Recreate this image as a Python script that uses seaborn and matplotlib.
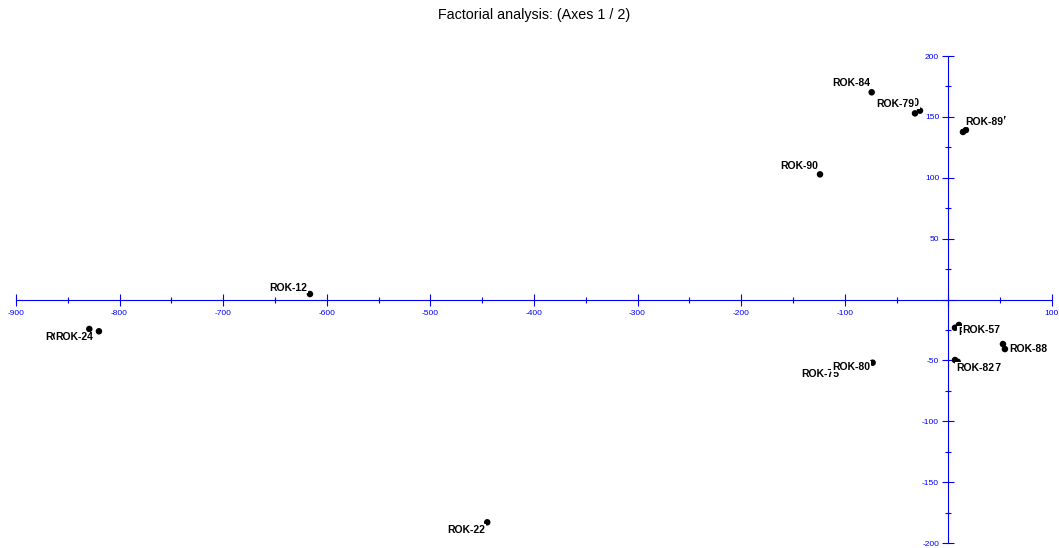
import matplotlib
matplotlib.use("Agg")
import matplotlib.pyplot as plt
from matplotlib.ticker import MultipleLocator, FixedLocator, FuncFormatter
import seaborn as sns
import pandas as pd
import numpy as np

# ---- data (observations projected on factorial axes 1 / 2) ----
labels = ["ROK-84", "ROK-70", "ROK-79", "ROK-90", "ROK-12", "ROK-23", "ROK-24",
          "ROK-75", "ROK-80", "ROK-22", "ROK-87", "ROK-89", "ROK-56", "ROK-57",
          "ROK-86", "ROK-88", "ROK-77", "ROK-82"]
axis1 = [-74.0, -27.4, -32.2, -123.9, -616.2, -829.2, -819.9,
         -102.7, -73.1, -445.1, 17.0, 14.1, 6.4, 10.2,
         52.7, 54.6, 9.0, 6.4]
axis2 = [170.2, 155.1, 152.9, 102.8, 4.5, -24.2, -26.1,
         -56.3, -51.9, -183.0, 139.2, 137.6, -23.2, -20.9,
         -36.6, -40.7, -51.1, -49.7]

# label placement (pixel offsets from point, horizontal alignment)
label_dx = [-1, -1, -1, -2, -3, -6.5, -5.7, -3, -2.7, -2.3, 2.7, 2.7, 3, 3.3, 6.3, 4.3, 5.3, 1]
label_dy = [6.2, 4.6, 6.8, 5.5, 3.5, -11.0, -9.2, -9.1, -7.1, -10.5, 5.6, 7.2, -7.1, -7.8, -8.1, -3.1, -9.0, -11.1]
label_ha = ["right"] * 10 + ["left"] * 8

title = "Factorial analysis: (Axes 1 / 2)"

sns.set_style("white")
plt.rcParams["font.family"] = ["Liberation Sans", "DejaVu Sans"]

W, H = 1059, 548
fig = plt.figure(figsize=(W / 100, H / 100), dpi=100)
ax = fig.add_axes([0, 0, 1, 1])
ax.set_facecolor("white")

df = pd.DataFrame({"F1": axis1, "F2": axis2, "label": labels})
sns.scatterplot(data=df, x="F1", y="F2", ax=ax, color="black", s=22,
                edgecolor="none", zorder=2, legend=False)

for lab, x, y, dx, dy, ha in zip(labels, axis1, axis2, label_dx, label_dy, label_ha):
    ax.annotate(lab, (x, y), xytext=(dx, dy), textcoords="offset pixels",
                ha=ha, va="baseline", fontsize=7.5, fontweight="bold",
                color="black", zorder=3,
                bbox=dict(boxstyle="square,pad=0.06", fc="white", ec="none"))

ax.set_xlim(-915.4, 106.8)
ax.set_ylim(-204.1, 246.0)

blue = "#0000ff"
for s in ["top", "right"]:
    ax.spines[s].set_visible(False)
ax.spines["left"].set_position(("data", 0))
ax.spines["bottom"].set_position(("data", 0))
ax.spines["left"].set_bounds(-200, 200)
ax.spines["bottom"].set_bounds(-900, 100)
for s in ["left", "bottom"]:
    ax.spines[s].set_color(blue)
    ax.spines[s].set_linewidth(0.8)
    ax.spines[s].set_zorder(1)

ax.xaxis.set_major_locator(FixedLocator(np.arange(-900, 101, 100)))
ax.xaxis.set_minor_locator(FixedLocator(np.arange(-850, 100, 100)))
ax.yaxis.set_major_locator(FixedLocator(np.arange(-200, 201, 50)))
ax.yaxis.set_minor_locator(FixedLocator(np.arange(-175, 200, 50)))
fmt = FuncFormatter(lambda v, p: "" if abs(v) < 1e-9 else f"{v:.0f}")
ax.xaxis.set_major_formatter(fmt)
ax.yaxis.set_major_formatter(fmt)
ax.tick_params(which="both", bottom=True, left=True, top=False, right=False)
ax.tick_params(which="major", direction="inout", length=8.3, width=0.8,
               color=blue, labelcolor=blue, labelsize=6)
ax.tick_params(which="minor", direction="inout", length=4.6, width=0.8, color=blue)
ax.tick_params(axis="x", which="major", pad=3.6)
ax.tick_params(axis="y", which="major", pad=2.5)
ax.set_xlabel("")
ax.set_ylabel("")
ax.grid(False)

fig.text(534 / W, 1 - 15 / H, title, ha="center", va="center", fontsize=10.3,
         color="black")

fig.savefig("out.png", dpi=100, facecolor="white")
